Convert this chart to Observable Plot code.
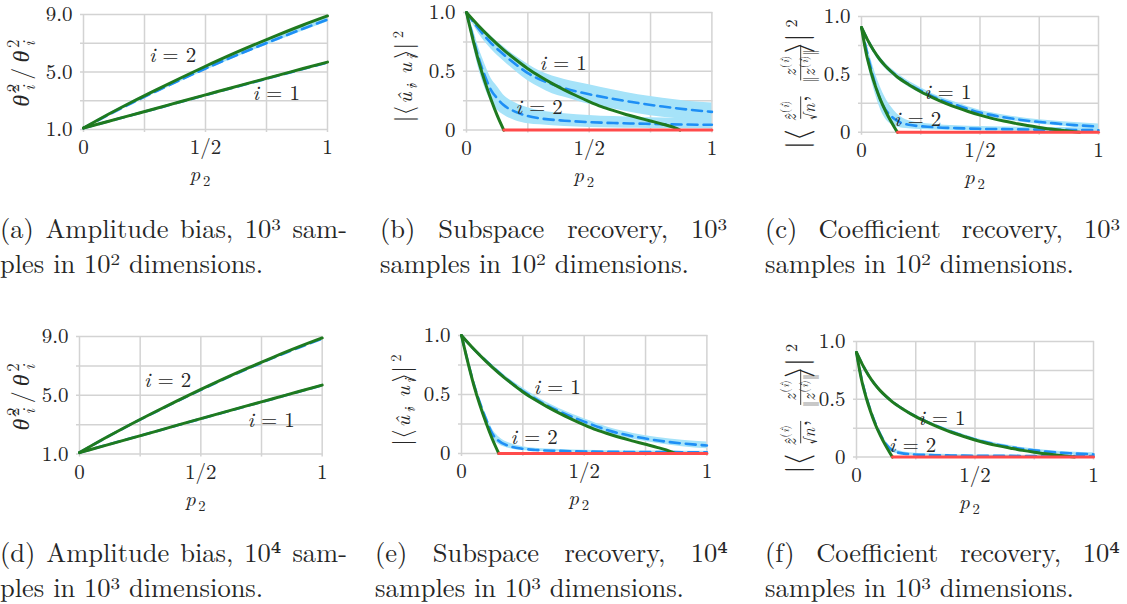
<!DOCTYPE html>
<html>
<head>
<meta charset="utf-8">
<script src="https://cdn.jsdelivr.net/npm/d3@7"></script>
<script src="https://cdn.jsdelivr.net/npm/@observablehq/plot@0.6"></script>
<style>
  html, body { margin: 0; padding: 0; background: #fff; }
  #fig { position: relative; width: 1127px; height: 604px; overflow: hidden; }
  .panel { position: absolute; }
  .panel svg { max-width: none; display: block; }
  #captions { position: absolute; left: 0; top: 0; }
</style>
</head>
<body>
<div id="fig"></div>
<script>
// ---------- data ----------
// amplitude bias: ratio of estimated to true variance along p2
const ampP = [0, 0.1, 0.2, 0.3, 0.4, 0.5, 0.6, 0.7, 0.8, 0.9, 1.0];
const ampTheory1 = [1.1, 1.56, 2.02, 2.48, 2.95, 3.41, 3.87, 4.33, 4.78, 5.24, 5.69];
const ampTheory2 = [1.1, 2.04, 2.93, 3.78, 4.6, 5.4, 6.17, 6.9, 7.6, 8.27, 8.9];
// 10^3 samples, 10^2 dimensions
const ampA1Mean = [1.1, 1.55, 2.01, 2.46, 2.93, 3.39, 3.85, 4.3, 4.76, 5.21, 5.66];
const ampA1Lo = [1.08, 1.5, 1.96, 2.41, 2.88, 3.34, 3.8, 4.25, 4.71, 5.16, 5.61];
const ampA1Hi = [1.12, 1.6, 2.06, 2.51, 2.98, 3.44, 3.9, 4.35, 4.81, 5.26, 5.71];
const ampA2Mean = [1.1, 2.0, 2.86, 3.68, 4.47, 5.24, 5.97, 6.67, 7.35, 8.01, 8.65];
const ampA2Lo = [1.08, 1.9, 2.74, 3.55, 4.34, 5.1, 5.83, 6.53, 7.2, 7.85, 8.48];
const ampA2Hi = [1.12, 2.1, 2.98, 3.81, 4.6, 5.38, 6.11, 6.81, 7.5, 8.17, 8.82];
// 10^4 samples, 10^3 dimensions
const ampD1Mean = [1.1, 1.56, 2.02, 2.48, 2.94, 3.4, 3.86, 4.32, 4.77, 5.23, 5.68];
const ampD1Lo = [1.09, 1.53, 1.99, 2.45, 2.91, 3.37, 3.83, 4.29, 4.74, 5.2, 5.65];
const ampD1Hi = [1.11, 1.59, 2.05, 2.51, 2.97, 3.43, 3.89, 4.35, 4.8, 5.26, 5.71];
const ampD2Mean = [1.1, 2.03, 2.92, 3.76, 4.58, 5.37, 6.14, 6.86, 7.56, 8.22, 8.85];
const ampD2Lo = [1.08, 1.99, 2.88, 3.72, 4.54, 5.33, 6.1, 6.82, 7.52, 8.18, 8.81];
const ampD2Hi = [1.12, 2.07, 2.96, 3.8, 4.62, 5.41, 6.18, 6.9, 7.6, 8.26, 8.89];

// subspace recovery |<u_hat_i, u_i>|^2
const subTheoryP1 = [0, 0.05, 0.1, 0.15, 0.2, 0.25, 0.3, 0.35, 0.4, 0.45, 0.5, 0.55, 0.6, 0.65, 0.7, 0.75, 0.8, 0.85, 0.87];
const subTheory1 = [1, 0.885, 0.78, 0.685, 0.6, 0.522, 0.455, 0.395, 0.34, 0.29, 0.243, 0.2, 0.165, 0.133, 0.105, 0.078, 0.05, 0.018, 0];
const subTheoryP2 = [0, 0.025, 0.05, 0.075, 0.1, 0.125, 0.152];
const subTheory2 = [1, 0.78, 0.58, 0.41, 0.26, 0.125, 0];
const empP1 = [0, 0.05, 0.1, 0.15, 0.2, 0.25, 0.3, 0.35, 0.4, 0.5, 0.6, 0.7, 0.8, 0.9, 1];
const empP2 = [0, 0.025, 0.05, 0.075, 0.1, 0.125, 0.15, 0.2, 0.25, 0.3, 0.4, 0.5, 0.6, 0.7, 0.8, 0.9, 1];
const subB1Mean = [1, 0.86, 0.74, 0.645, 0.56, 0.485, 0.43, 0.39, 0.355, 0.305, 0.265, 0.23, 0.2, 0.175, 0.155];
const subB1Lo = [1, 0.82, 0.69, 0.59, 0.5, 0.42, 0.36, 0.31, 0.28, 0.22, 0.18, 0.14, 0.11, 0.09, 0.075];
const subB1Hi = [1, 0.9, 0.8, 0.71, 0.63, 0.56, 0.5, 0.46, 0.43, 0.385, 0.34, 0.3, 0.27, 0.245, 0.23];
const subB2Mean = [1, 0.8, 0.61, 0.46, 0.34, 0.27, 0.215, 0.155, 0.12, 0.1, 0.08, 0.068, 0.06, 0.055, 0.05, 0.047, 0.045];
const subB2Lo = [1, 0.74, 0.52, 0.36, 0.24, 0.17, 0.13, 0.08, 0.055, 0.045, 0.03, 0.022, 0.018, 0.015, 0.013, 0.011, 0.01];
const subB2Hi = [1, 0.87, 0.7, 0.56, 0.44, 0.37, 0.3, 0.23, 0.19, 0.165, 0.14, 0.125, 0.115, 0.108, 0.102, 0.098, 0.095];
const subE1Mean = [1, 0.885, 0.785, 0.69, 0.605, 0.53, 0.465, 0.405, 0.355, 0.27, 0.195, 0.145, 0.11, 0.085, 0.068];
const subE1Lo = [1, 0.875, 0.77, 0.67, 0.585, 0.505, 0.44, 0.38, 0.33, 0.245, 0.17, 0.12, 0.085, 0.058, 0.04];
const subE1Hi = [1, 0.895, 0.8, 0.71, 0.625, 0.555, 0.49, 0.43, 0.38, 0.295, 0.22, 0.17, 0.135, 0.112, 0.098];
const subE2Mean = [1, 0.785, 0.59, 0.43, 0.29, 0.17, 0.11, 0.06, 0.04, 0.03, 0.022, 0.017, 0.014, 0.013, 0.012, 0.011, 0.011];
const subE2Lo = [1, 0.77, 0.565, 0.395, 0.25, 0.13, 0.08, 0.04, 0.025, 0.018, 0.012, 0.008, 0.006, 0.005, 0.005, 0.004, 0.004];
const subE2Hi = [1, 0.8, 0.615, 0.46, 0.33, 0.21, 0.145, 0.085, 0.058, 0.045, 0.034, 0.028, 0.024, 0.022, 0.021, 0.02, 0.02];

// coefficient recovery
const coefTheoryP1 = [0, 0.025, 0.05, 0.075, 0.1, 0.125, 0.15, 0.2, 0.25, 0.3, 0.35, 0.4, 0.45, 0.5, 0.55, 0.6, 0.65, 0.7, 0.75, 0.8, 0.85, 0.92];
const coefTheory1 = [0.905, 0.8, 0.71, 0.635, 0.575, 0.525, 0.48, 0.41, 0.35, 0.3, 0.255, 0.215, 0.18, 0.148, 0.12, 0.097, 0.077, 0.058, 0.042, 0.028, 0.015, 0];
const coefTheoryP2 = [0, 0.02, 0.04, 0.06, 0.08, 0.1, 0.12, 0.14, 0.152];
const coefTheory2 = [0.905, 0.68, 0.52, 0.39, 0.28, 0.19, 0.11, 0.04, 0];
const coefEmpP1 = [0, 0.05, 0.1, 0.15, 0.2, 0.25, 0.3, 0.4, 0.5, 0.6, 0.7, 0.8, 0.9, 1];
const coefEmpP2 = [0, 0.02, 0.04, 0.06, 0.08, 0.1, 0.125, 0.15, 0.2, 0.3, 0.4, 0.5, 0.6, 0.7, 0.8, 0.9, 1];
const coefC1Mean = [0.905, 0.71, 0.575, 0.485, 0.415, 0.36, 0.31, 0.235, 0.17, 0.13, 0.1, 0.08, 0.062, 0.05];
const coefC1Lo = [0.905, 0.69, 0.55, 0.46, 0.39, 0.335, 0.287, 0.213, 0.15, 0.11, 0.08, 0.06, 0.042, 0.028];
const coefC1Hi = [0.905, 0.73, 0.6, 0.51, 0.44, 0.385, 0.333, 0.257, 0.19, 0.15, 0.12, 0.1, 0.084, 0.072];
const coefC2Mean = [0.905, 0.72, 0.55, 0.4, 0.28, 0.2, 0.14, 0.1, 0.065, 0.045, 0.036, 0.03, 0.027, 0.024, 0.022, 0.02, 0.018];
const coefC2Lo = [0.905, 0.66, 0.47, 0.32, 0.2, 0.12, 0.07, 0.045, 0.03, 0.02, 0.015, 0.012, 0.01, 0.008, 0.007, 0.006, 0.005];
const coefC2Hi = [0.905, 0.78, 0.63, 0.5, 0.39, 0.3, 0.22, 0.16, 0.1, 0.07, 0.057, 0.05, 0.046, 0.043, 0.041, 0.039, 0.038];
const coefF1Mean = [0.905, 0.71, 0.575, 0.482, 0.41, 0.352, 0.302, 0.22, 0.153, 0.105, 0.07, 0.048, 0.033, 0.025];
const coefF1Lo = [0.905, 0.698, 0.563, 0.47, 0.398, 0.34, 0.29, 0.208, 0.141, 0.093, 0.058, 0.036, 0.021, 0.013];
const coefF1Hi = [0.905, 0.722, 0.587, 0.494, 0.422, 0.364, 0.314, 0.232, 0.165, 0.117, 0.082, 0.06, 0.045, 0.037];
const coefF2Mean = [0.905, 0.69, 0.53, 0.4, 0.29, 0.2, 0.11, 0.06, 0.03, 0.018, 0.014, 0.012, 0.011, 0.01, 0.01, 0.01, 0.01];
const coefF2Lo = [0.905, 0.68, 0.515, 0.38, 0.27, 0.175, 0.09, 0.045, 0.02, 0.01, 0.007, 0.005, 0.004, 0.003, 0.003, 0.003, 0.003];
const coefF2Hi = [0.905, 0.7, 0.545, 0.42, 0.31, 0.225, 0.135, 0.08, 0.045, 0.028, 0.022, 0.019, 0.018, 0.017, 0.017, 0.017, 0.017];

// p2 range past the i = 2 phase transition, where the theory is zero
const zeroP = [0.152, 1];

// ticks and text
const xGrid = [0, 0.25, 0.5, 0.75, 1];
const xTicks = [0, 0.5, 1];
const xTickLabels = ["0", "1/2", "1"];
const ampGrid = [1, 3, 5, 7, 9];
const ampTicks = [1, 5, 9];
const ampTickLabels = ["1.0", "5.0", "9.0"];
const unitGrid = [0, 0.25, 0.5, 0.75, 1];
const unitTicks = [0, 0.5, 1];
const unitTickLabels = ["0", "0.5", "1.0"];
const seriesNames = ["i = 1", "i = 2"];
const captions = [
  ["(a) Amplitude bias, 10\u00B3 sam-", "ples in 10\u00B2 dimensions."],
  ["(b) Subspace recovery, 10\u00B3", "samples in 10\u00B2 dimensions."],
  ["(c) Coefficient recovery, 10\u00B3", "samples in 10\u00B2 dimensions."],
  ["(d) Amplitude bias, 10\u2074 sam-", "ples in 10\u00B3 dimensions."],
  ["(e) Subspace recovery, 10\u2074", "samples in 10\u00B3 dimensions."],
  ["(f) Coefficient recovery, 10\u2074", "samples in 10\u00B3 dimensions."]
];

// ---------- styling ----------
const INK = "#262626";
const GRID = "#d3d3d3";
const GREEN = "#1f7a1f";
const BLUE = "#1e8ff5";
const BAND = "#a6e3f9";
const RED = "#ff4b4b";
const FONT = "Latin Modern Roman, Latin Modern Math, DejaVu Serif, serif";
const GREEK = "Liberation Serif, DejaVu Serif, serif";
const ML = 95, MR = 16, MT = 30, MB = 66;

const zip = (ps, ys) => ps.map((p, i) => ({p, v: ys[i]}));
const zipBand = (ps, lo, hi) => ps.map((p, i) => ({p, lo: lo[i], hi: hi[i]}));

// ---------- axis titles as math ----------
const ampTitle = [{t: "\u03B8\u0302", it: 1, font: GREEK}, {gap: 1}, {sup: [{t: "2"}], sub: [{t: "i", it: 1}]}, {gap: 5}, {t: "/"}, {gap: 5},
  {t: "\u03B8", it: 1, font: GREEK}, {gap: 1}, {sup: [{t: "2"}], sub: [{t: "i", it: 1}]}];
const subTitle = [{t: "|\u27E8", sc: 1.15}, {t: "\u00FB", it: 1}, {sub: [{t: "i", it: 1}]}, {t: ", "},
  {t: "u", it: 1}, {sub: [{t: "i", it: 1}]}, {gap: 1}, {t: "\u27E9|", sc: 1.15}, {sup: [{t: "2"}]}];
const supI = [{t: "("}, {t: "i", it: 1}, {t: ")"}];
const coefTitle = [{t: "|\u27E8", sc: 1.3},
  {frac: [[{t: "z\u0302", it: 1}, {sup: supI}], [{t: "\u221A"}, {t: "n", it: 1}]]},
  {t: ", "},
  {frac: [[{t: "z", it: 1}, {sup: supI}], [{t: "\u2016"}, {t: "z", it: 1}, {sup: supI}, {t: "\u2016"}]]},
  {t: "\u27E9|", sc: 1.3}, {sup: [{t: "2"}]}];
const pTitle = [{t: "p", it: 1}, {gap: 1}, {sub: [{t: "2"}]}];

function layoutMath(g, tokens, size, x) {
  const start = x;
  for (const tk of tokens) {
    if (tk.gap) {
      x += tk.gap;
    } else if (tk.frac) {
      const s = size * 0.72;
      const axis = -size * 0.27;
      const gn = g.append("g"), gd = g.append("g");
      const wn = layoutMath(gn, tk.frac[0], s, 0);
      const wd = layoutMath(gd, tk.frac[1], s, 0);
      const w = Math.max(wn, wd) + 3;
      gn.attr("transform", `translate(${x + (w - wn) / 2},${axis - s * 0.3})`);
      gd.attr("transform", `translate(${x + (w - wd) / 2},${axis + s * 0.85})`);
      g.append("line").attr("x1", x + 0.5).attr("x2", x + w - 0.5).attr("y1", axis).attr("y2", axis)
        .attr("stroke", INK).attr("stroke-width", 0.9);
      x += w + 1;
    } else if (tk.sup || tk.sub) {
      const s = size * 0.7;
      let w = 0;
      if (tk.sup) {
        const gs = g.append("g").attr("transform", `translate(${x},${-size * 0.42})`);
        w = Math.max(w, layoutMath(gs, tk.sup, s, 0));
      }
      if (tk.sub) {
        const gs = g.append("g").attr("transform", `translate(${x},${size * 0.25})`);
        w = Math.max(w, layoutMath(gs, tk.sub, s, 0));
      }
      x += w + 1;
    } else {
      const t = g.append("text").attr("x", x).attr("y", 0).attr("font-size", size * (tk.sc || 1)).text(tk.t);
      if (tk.it) t.attr("font-style", "italic");
      if (tk.font) t.attr("font-family", tk.font);
      x += t.node().getComputedTextLength();
    }
  }
  return x - start;
}

function mathTitle(svg, tokens, size, cx, cy, rotate) {
  const g = d3.select(svg).append("g").attr("fill", INK).attr("font-family", FONT)
    .attr("transform", `translate(${cx},${cy})` + (rotate ? " rotate(-90)" : ""));
  const inner = g.append("g");
  const w = layoutMath(inner, tokens, size, 0);
  inner.attr("transform", `translate(${-w / 2},${rotate ? size * 0.33 : 0})`);
}

// ---------- panels ----------
const panels = [
  {frame: {x0: 83, x1: 327, yT: 14.3, yB: 129.3}, kind: "amp",
   theory: [zip(ampP, ampTheory1), zip(ampP, ampTheory2)],
   mean: [zip(ampP, ampA1Mean), zip(ampP, ampA2Mean)],
   band: [zipBand(ampP, ampA1Lo, ampA1Hi), zipBand(ampP, ampA2Lo, ampA2Hi)],
   labelAt: [[0.79, 3.53], [0.365, 6.17]], title: ampTitle, titleSize: 24, titleAt: [21, 68]},
  {frame: {x0: 466.3, x1: 711.7, yT: 11.7, yB: 129.3}, kind: "unit",
   theory: [zip(subTheoryP1, subTheory1), zip(subTheoryP2, subTheory2)],
   mean: [zip(empP1, subB1Mean), zip(empP2, subB2Mean)],
   band: [zipBand(empP1, subB1Lo, subB1Hi), zipBand(empP2, subB2Lo, subB2Hi)],
   labelAt: [[0.394, 0.572], [0.296, 0.198]], title: subTitle, titleSize: 21, titleAt: [405, 70]},
  {frame: {x0: 860.7, x1: 1097.7, yT: 16.2, yB: 132}, kind: "unit",
   theory: [zip(coefTheoryP1, coefTheory1), zip(coefTheoryP2, coefTheory2)],
   mean: [zip(coefEmpP1, coefC1Mean), zip(coefEmpP2, coefC2Mean)],
   band: [zipBand(coefEmpP1, coefC1Lo, coefC1Hi), zipBand(coefEmpP2, coefC2Lo, coefC2Hi)],
   labelAt: [[0.364, 0.345], [0.237, 0.11]], title: coefTitle, titleSize: 23, titleAt: [799, 77]},
  {frame: {x0: 79, x1: 321.7, yT: 335.7, yB: 453.3}, kind: "amp",
   theory: [zip(ampP, ampTheory1), zip(ampP, ampTheory2)],
   mean: [zip(ampP, ampD1Mean), zip(ampP, ampD2Mean)],
   band: [zipBand(ampP, ampD1Lo, ampD1Hi), zipBand(ampP, ampD2Lo, ampD2Hi)],
   labelAt: [[0.79, 3.33], [0.363, 5.99]], title: ampTitle, titleSize: 24, titleAt: [21, 391]},
  {frame: {x0: 461.3, x1: 706.7, yT: 335.3, yB: 453.3}, kind: "unit",
   theory: [zip(subTheoryP1, subTheory1), zip(subTheoryP2, subTheory2)],
   mean: [zip(empP1, subE1Mean), zip(empP2, subE2Mean)],
   band: [zipBand(empP1, subE1Lo, subE1Hi), zipBand(empP2, subE2Lo, subE2Hi)],
   labelAt: [[0.39, 0.562], [0.296, 0.138]], title: subTitle, titleSize: 21, titleAt: [403, 394]},
  {frame: {x0: 855.7, x1: 1092.7, yT: 340.7, yB: 456.3}, kind: "unit",
   theory: [zip(coefTheoryP1, coefTheory1), zip(coefTheoryP2, coefTheory2)],
   mean: [zip(coefEmpP1, coefF1Mean), zip(coefEmpP2, coefF2Mean)],
   band: [zipBand(coefEmpP1, coefF1Lo, coefF1Hi), zipBand(coefEmpP2, coefF2Lo, coefF2Hi)],
   labelAt: [[0.36, 0.338], [0.237, 0.104]], title: coefTitle, titleSize: 23, titleAt: [799, 401]}
];

const fig = document.getElementById("fig");

for (const pn of panels) {
  const {x0, x1, yT, yB} = pn.frame;
  const width = (x1 - x0) + ML + MR;
  const height = (yB - yT) + MT + MB;
  const left = x0 - ML, top = yT - MT;
  const amp = pn.kind === "amp";
  const yGrid = amp ? ampGrid : unitGrid;
  const yTicks = amp ? ampTicks : unitTicks;
  const yLabels = amp ? ampTickLabels : unitTickLabels;
  const labels = pn.labelAt.map(([p, v], i) => ({p, v, t: seriesNames[i]}));

  const marks = [
    Plot.ruleX(xGrid, {stroke: GRID, strokeWidth: 1.5, insetBottom: -3}),
    Plot.ruleY(yGrid, {stroke: GRID, strokeWidth: 1.5, insetLeft: -3, insetRight: -1}),
    ...pn.band.map(b => Plot.areaY(b, {x: "p", y1: "lo", y2: "hi", fill: BAND, curve: "monotone-x"})),
    ...pn.mean.map(m => Plot.line(m, {x: "p", y: "v", stroke: BLUE, strokeWidth: 2.6, strokeDasharray: "10,6", curve: "monotone-x"})),
    ...pn.theory.map(t => Plot.line(t, {x: "p", y: "v", stroke: GREEN, strokeWidth: 3, curve: "monotone-x"})),
    ...(amp ? [] : [Plot.line(zeroP.map(p => ({p, v: 0})), {x: "p", y: "v", stroke: RED, strokeWidth: 3})]),
    Plot.text(labels, {x: "p", y: "v", text: "t", fontSize: 21, fill: INK}),
    Plot.axisX(xTicks, {tickSize: 0, tickPadding: 9.5, tickFormat: (d, i) => xTickLabels[i], label: null, fill: INK}),
    Plot.axisY(yTicks, {tickSize: 0, tickPadding: 11, tickFormat: (d, i) => yLabels[i], label: null, fill: INK})
  ];

  const svg = Plot.plot({
    width, height,
    marginLeft: ML, marginRight: MR, marginTop: MT, marginBottom: MB,
    x: {domain: [0, 1]},
    y: {domain: amp ? [1, 9] : [0, 1]},
    style: {fontFamily: FONT, fontSize: "21px", color: INK, background: "transparent", overflow: "visible"},
    marks
  });
  svg.setAttribute("font-family", FONT);

  const div = document.createElement("div");
  div.className = "panel";
  div.style.left = left + "px";
  div.style.top = top + "px";
  div.style.width = width + "px";
  div.appendChild(svg);
  fig.appendChild(div);

  // italic index in the series labels
  d3.select(svg).selectAll('g[aria-label="text"] text').each(function () {
    const s = this.textContent;
    const el = d3.select(this);
    el.text(null);
    el.append("tspan").attr("font-style", "italic").text(s.slice(0, 1));
    el.append("tspan").text(s.slice(1));
  });

  // axis titles
  mathTitle(svg, pTitle, 21, (x0 + x1) / 2 - left, yB + 52 - top, false);
  mathTitle(svg, pn.title, pn.titleSize, pn.titleAt[0] - left, pn.titleAt[1] - top, true);
}

// ---------- captions ----------
const CAP = 26.5;
const capBoxes = [
  {x: 0, x2: 347, y: 238}, {x: 380, x2: 727, y: 238}, {x: 765, x2: 1120, y: 238},
  {x: 0, x2: 347, y: 562}, {x: 375, x2: 728, y: 562}, {x: 765, x2: 1120, y: 562}
];
const capSvg = d3.select(fig).append("svg").attr("id", "captions")
  .attr("width", 1127).attr("height", 604)
  .attr("font-family", FONT).attr("font-size", CAP).attr("fill", INK);

// first caption lines are justified across the column, the second ones are set ragged
function captionLine(str, x, y, x2) {
  const t = capSvg.append("text").attr("x", x).attr("y", y).text(str);
  if (x2 != null) {
    const natural = t.node().getComputedTextLength();
    const spaces = (str.match(/ /g) || []).length;
    const extra = (x2 - x - natural) / spaces;
    if (extra > 0) t.style("word-spacing", extra + "px");
  }
}
captions.forEach(([l1, l2], i) => {
  const b = capBoxes[i];
  captionLine(l1, b.x, b.y, b.x2);
  captionLine(l2, b.x, b.y + 35, null);
});
</script>
</body>
</html>
